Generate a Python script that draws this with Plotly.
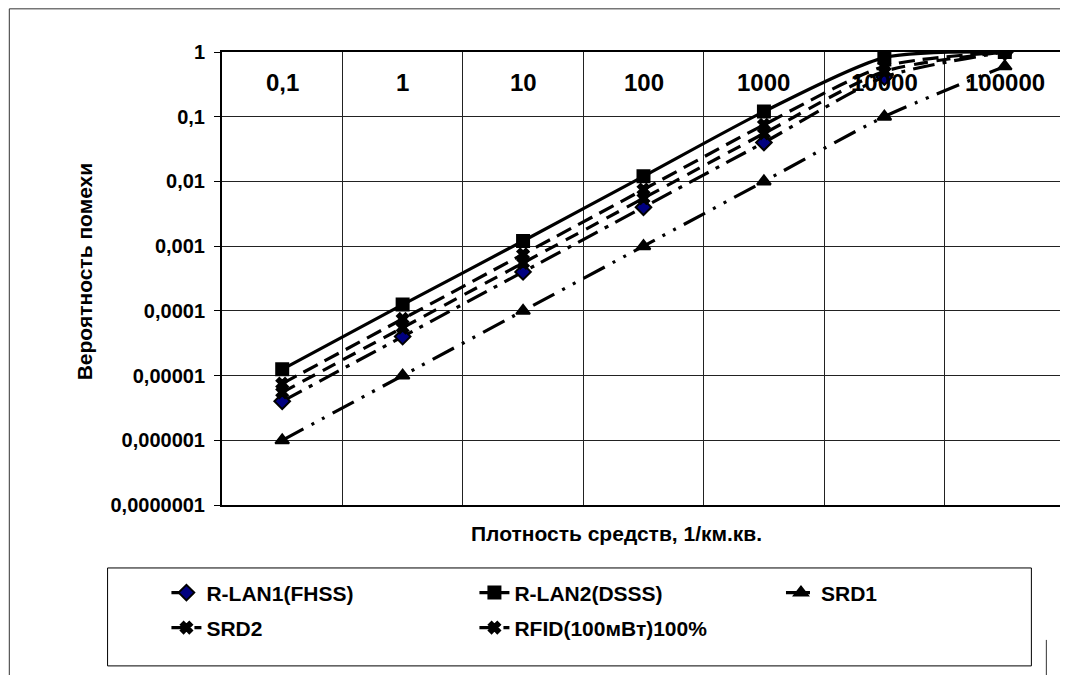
import plotly.graph_objects as go

categories = ["0,1", "1", "10", "100", "1000", "10000", "100000"]
rlan1_fhss = [4e-6, 4e-5, 4e-4, 4e-3, 0.04, 0.41, 1.0]
rlan2_dsss = [1.25e-5, 1.25e-4, 1.2e-3, 1.2e-2, 0.12, 0.82, 1.0]
srd1 = [1e-6, 1e-5, 1e-4, 1e-3, 0.01, 0.1, 0.6]
srd2 = [5.5e-6, 5.5e-5, 5.5e-4, 5.5e-3, 0.055, 0.5, 1.0]
rfid = [7.5e-6, 7.5e-5, 7.5e-4, 7.5e-3, 0.075, 0.6, 1.0]

y_tickvals = [1e-7, 1e-6, 1e-5, 1e-4, 1e-3, 1e-2, 1e-1, 1]
y_ticktext = ["0,0000001", "0,000001", "0,00001", "0,0001", "0,001", "0,01", "0,1", "1"]

FONT = "Liberation Sans, Arial, sans-serif"

# page offset (browser body margin)
OFF = 8
W, H = 1068 - OFF, 675 - OFF
# plot area in page coordinates
PL, PR, PT, PB = 221.7, 1066.7, 51.7, 505.0
L = PL - OFF
R = W - (PR - OFF)
T = PT - OFF
B = H - (PB - OFF)
PW = PR - PL
PH = PB - PT


def px_x(x):
    return (x - PL) / PW


def px_y(y):
    return (PB - y) / PH


series = [
    dict(name="R-LAN1(FHSS)", y=rlan1_fhss, symbol="diamond", size=12, fill="#000080",
         dash="22px,8px,4px,8px", legend="legend"),
    dict(name="R-LAN2(DSSS)", y=rlan2_dsss, symbol="square", size=12, fill="black",
         dash="solid", legend="legend"),
    dict(name="SRD1", y=srd1, symbol="triangle-up", size=12, fill="black",
         dash="24px,9px,3px,9px,3px,9px", legend="legend3"),
    dict(name="SRD2", y=srd2, symbol="x", size=10, fill="black",
         dash="14px,9px", legend="legend2"),
    dict(name="RFID(100мВт)100%", y=rfid, symbol="x", size=10, fill="black",
         dash="16px,8px", legend="legend2"),
]

fig = go.Figure()
for s in series:
    fig.add_trace(go.Scatter(
        x=categories, y=s["y"], name=s["name"], mode="lines+markers",
        line=dict(color="black", width=3.2, dash=s["dash"], shape="spline", smoothing=0.7),
        marker=dict(symbol=s["symbol"], size=s["size"], color=s["fill"],
                    line=dict(color="black", width=2)),
        legend=s["legend"],
    ))

annotations = []
for i, c in enumerate(categories):
    annotations.append(dict(x=i, xref="x", y=px_y(82), yref="paper", text=c,
                            showarrow=False, yanchor="middle",
                            font=dict(family=FONT, size=24, color="black", weight="bold")))
annotations.append(dict(x=px_x(70), xref="paper", y=px_y(272), yref="paper",
                        text="Вероятность помехи", textangle=-90, showarrow=False,
                        font=dict(family=FONT, size=21, color="black", weight="bold")))
annotations.append(dict(x=px_x(617), xref="paper", y=px_y(547), yref="paper",
                        text="Плотность средств, 1/км.кв.", showarrow=False,
                        font=dict(family=FONT, size=21, color="black", weight="bold")))

shapes = [
    dict(type="rect", xref="paper", yref="paper", x0=px_x(OFF + 0.5), x1=px_x(1080),
         y0=px_y(700), y1=px_y(OFF + 0.5), line=dict(color="#333", width=1)),
    dict(type="rect", xref="paper", yref="paper", x0=px_x(107), x1=px_x(1033),
         y0=px_y(666), y1=px_y(568), line=dict(color="black", width=1)),
    dict(type="line", xref="paper", yref="paper", x0=px_x(1048), x1=px_x(1048),
         y0=px_y(640), y1=px_y(700), line=dict(color="#333", width=1)),
]

legend_font = dict(family=FONT, size=21, color="black", weight="bold")
LEG_SHIFT = 41  # text start relative to legend x

fig.update_layout(
    width=W, height=H,
    margin=dict(l=L, r=R, t=T, b=B),
    paper_bgcolor="white", plot_bgcolor="white",
    annotations=annotations,
    shapes=shapes,
    legend=dict(orientation="h", x=px_x(207 - LEG_SHIFT), xanchor="left", y=px_y(593),
                yanchor="middle", entrywidth=263, entrywidthmode="pixels", font=legend_font,
                bgcolor="rgba(0,0,0,0)", borderwidth=0),
    legend3=dict(orientation="h", x=px_x(823 - LEG_SHIFT), xanchor="left", y=px_y(593),
                 yanchor="middle", font=legend_font,
                 bgcolor="rgba(0,0,0,0)", borderwidth=0),
    legend2=dict(orientation="h", x=px_x(207 - LEG_SHIFT), xanchor="left", y=px_y(628),
                 yanchor="middle", entrywidth=263, entrywidthmode="pixels", font=legend_font,
                 bgcolor="rgba(0,0,0,0)", borderwidth=0),
    xaxis=dict(type="category", range=[-0.5, 6.5], showticklabels=False, ticks="",
               tickson="boundaries", showgrid=True, gridcolor="#222", gridwidth=1,
               showline=True, linecolor="black", linewidth=1.5, mirror=True, zeroline=False),
    yaxis=dict(type="log", range=[-7, 0], tickvals=y_tickvals, ticktext=y_ticktext,
               ticks="outside", ticklen=6, tickcolor="black", tickwidth=1,
               ticklabelstandoff=5,
               showgrid=True, gridcolor="#222", gridwidth=1,
               showline=True, linecolor="black", linewidth=2, mirror=True,
               tickfont=dict(family=FONT, size=20, color="black", weight="bold"),
               zeroline=False),
)

fig.write_html("out.html")
